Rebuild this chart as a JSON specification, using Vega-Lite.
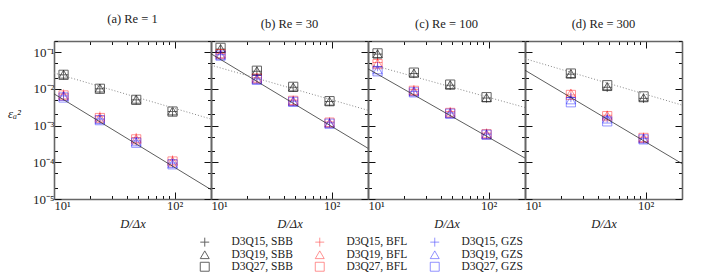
{
  "$schema": "https://vega.github.io/schema/vega-lite/v6.json",
  "padding": {"left": 7, "top": 12, "right": 5, "bottom": 5},
  "bounds": "flush",
  "datasets": {
    "pts": [
      {"panel":"a","series":"D3Q15, SBB","x":12,"e":0.024},{"panel":"a","series":"D3Q15, SBB","x":24,"e":0.0100},{"panel":"a","series":"D3Q15, SBB","x":48,"e":0.0050},{"panel":"a","series":"D3Q15, SBB","x":96,"e":0.0024},
      {"panel":"a","series":"D3Q19, SBB","x":12,"e":0.025},{"panel":"a","series":"D3Q19, SBB","x":24,"e":0.0105},{"panel":"a","series":"D3Q19, SBB","x":48,"e":0.0052},{"panel":"a","series":"D3Q19, SBB","x":96,"e":0.0025},
      {"panel":"a","series":"D3Q27, SBB","x":12,"e":0.024},{"panel":"a","series":"D3Q27, SBB","x":24,"e":0.0100},{"panel":"a","series":"D3Q27, SBB","x":48,"e":0.0050},{"panel":"a","series":"D3Q27, SBB","x":96,"e":0.0024},
      {"panel":"a","series":"D3Q15, BFL","x":12,"e":0.0072},{"panel":"a","series":"D3Q15, BFL","x":24,"e":0.0018},{"panel":"a","series":"D3Q15, BFL","x":48,"e":0.00047},{"panel":"a","series":"D3Q15, BFL","x":96,"e":0.000115},
      {"panel":"a","series":"D3Q19, BFL","x":12,"e":0.0068},{"panel":"a","series":"D3Q19, BFL","x":24,"e":0.0017},{"panel":"a","series":"D3Q19, BFL","x":48,"e":0.00044},{"panel":"a","series":"D3Q19, BFL","x":96,"e":0.00011},
      {"panel":"a","series":"D3Q27, BFL","x":12,"e":0.0066},{"panel":"a","series":"D3Q27, BFL","x":24,"e":0.0016},{"panel":"a","series":"D3Q27, BFL","x":48,"e":0.00042},{"panel":"a","series":"D3Q27, BFL","x":96,"e":0.000105},
      {"panel":"a","series":"D3Q15, GZS","x":12,"e":0.0064},{"panel":"a","series":"D3Q15, GZS","x":24,"e":0.0015},{"panel":"a","series":"D3Q15, GZS","x":48,"e":0.00038},{"panel":"a","series":"D3Q15, GZS","x":96,"e":0.000095},
      {"panel":"a","series":"D3Q19, GZS","x":12,"e":0.0062},{"panel":"a","series":"D3Q19, GZS","x":24,"e":0.00145},{"panel":"a","series":"D3Q19, GZS","x":48,"e":0.00036},{"panel":"a","series":"D3Q19, GZS","x":96,"e":0.000092},
      {"panel":"a","series":"D3Q27, GZS","x":12,"e":0.0058},{"panel":"a","series":"D3Q27, GZS","x":24,"e":0.0014},{"panel":"a","series":"D3Q27, GZS","x":48,"e":0.00034},{"panel":"a","series":"D3Q27, GZS","x":96,"e":0.000088},

      {"panel":"b","series":"D3Q15, SBB","x":12,"e":0.12},{"panel":"b","series":"D3Q15, SBB","x":24,"e":0.030},{"panel":"b","series":"D3Q15, SBB","x":48,"e":0.0110},{"panel":"b","series":"D3Q15, SBB","x":96,"e":0.0045},
      {"panel":"b","series":"D3Q19, SBB","x":12,"e":0.125},{"panel":"b","series":"D3Q19, SBB","x":24,"e":0.031},{"panel":"b","series":"D3Q19, SBB","x":48,"e":0.0112},{"panel":"b","series":"D3Q19, SBB","x":96,"e":0.0046},
      {"panel":"b","series":"D3Q27, SBB","x":12,"e":0.13},{"panel":"b","series":"D3Q27, SBB","x":24,"e":0.031},{"panel":"b","series":"D3Q27, SBB","x":48,"e":0.0113},{"panel":"b","series":"D3Q27, SBB","x":96,"e":0.0046},
      {"panel":"b","series":"D3Q15, BFL","x":12,"e":0.092},{"panel":"b","series":"D3Q15, BFL","x":24,"e":0.020},{"panel":"b","series":"D3Q15, BFL","x":48,"e":0.0049},{"panel":"b","series":"D3Q15, BFL","x":96,"e":0.00125},
      {"panel":"b","series":"D3Q19, BFL","x":12,"e":0.090},{"panel":"b","series":"D3Q19, BFL","x":24,"e":0.0195},{"panel":"b","series":"D3Q19, BFL","x":48,"e":0.0048},{"panel":"b","series":"D3Q19, BFL","x":96,"e":0.0012},
      {"panel":"b","series":"D3Q27, BFL","x":12,"e":0.088},{"panel":"b","series":"D3Q27, BFL","x":24,"e":0.019},{"panel":"b","series":"D3Q27, BFL","x":48,"e":0.0047},{"panel":"b","series":"D3Q27, BFL","x":96,"e":0.0012},
      {"panel":"b","series":"D3Q15, GZS","x":12,"e":0.085},{"panel":"b","series":"D3Q15, GZS","x":24,"e":0.0185},{"panel":"b","series":"D3Q15, GZS","x":48,"e":0.0046},{"panel":"b","series":"D3Q15, GZS","x":96,"e":0.00118},
      {"panel":"b","series":"D3Q19, GZS","x":12,"e":0.082},{"panel":"b","series":"D3Q19, GZS","x":24,"e":0.018},{"panel":"b","series":"D3Q19, GZS","x":48,"e":0.0045},{"panel":"b","series":"D3Q19, GZS","x":96,"e":0.00115},
      {"panel":"b","series":"D3Q27, GZS","x":12,"e":0.080},{"panel":"b","series":"D3Q27, GZS","x":24,"e":0.0175},{"panel":"b","series":"D3Q27, GZS","x":48,"e":0.0044},{"panel":"b","series":"D3Q27, GZS","x":96,"e":0.00112},

      {"panel":"c","series":"D3Q15, SBB","x":12,"e":0.088},{"panel":"c","series":"D3Q15, SBB","x":24,"e":0.026},{"panel":"c","series":"D3Q15, SBB","x":48,"e":0.0125},{"panel":"c","series":"D3Q15, SBB","x":96,"e":0.0056},
      {"panel":"c","series":"D3Q19, SBB","x":12,"e":0.090},{"panel":"c","series":"D3Q19, SBB","x":24,"e":0.027},{"panel":"c","series":"D3Q19, SBB","x":48,"e":0.013},{"panel":"c","series":"D3Q19, SBB","x":96,"e":0.0058},
      {"panel":"c","series":"D3Q27, SBB","x":12,"e":0.092},{"panel":"c","series":"D3Q27, SBB","x":24,"e":0.0275},{"panel":"c","series":"D3Q27, SBB","x":48,"e":0.013},{"panel":"c","series":"D3Q27, SBB","x":96,"e":0.0059},
      {"panel":"c","series":"D3Q15, BFL","x":12,"e":0.052},{"panel":"c","series":"D3Q15, BFL","x":24,"e":0.0095},{"panel":"c","series":"D3Q15, BFL","x":48,"e":0.0024},{"panel":"c","series":"D3Q15, BFL","x":96,"e":0.00062},
      {"panel":"c","series":"D3Q19, BFL","x":12,"e":0.050},{"panel":"c","series":"D3Q19, BFL","x":24,"e":0.0090},{"panel":"c","series":"D3Q19, BFL","x":48,"e":0.0023},{"panel":"c","series":"D3Q19, BFL","x":96,"e":0.0006},
      {"panel":"c","series":"D3Q27, BFL","x":12,"e":0.047},{"panel":"c","series":"D3Q27, BFL","x":24,"e":0.0088},{"panel":"c","series":"D3Q27, BFL","x":48,"e":0.0022},{"panel":"c","series":"D3Q27, BFL","x":96,"e":0.00058},
      {"panel":"c","series":"D3Q15, GZS","x":12,"e":0.040},{"panel":"c","series":"D3Q15, GZS","x":24,"e":0.0085},{"panel":"c","series":"D3Q15, GZS","x":48,"e":0.0022},{"panel":"c","series":"D3Q15, GZS","x":96,"e":0.00058},
      {"panel":"c","series":"D3Q19, GZS","x":12,"e":0.033},{"panel":"c","series":"D3Q19, GZS","x":24,"e":0.0082},{"panel":"c","series":"D3Q19, GZS","x":48,"e":0.0021},{"panel":"c","series":"D3Q19, GZS","x":96,"e":0.00057},
      {"panel":"c","series":"D3Q27, GZS","x":12,"e":0.030},{"panel":"c","series":"D3Q27, GZS","x":24,"e":0.0080},{"panel":"c","series":"D3Q27, GZS","x":48,"e":0.0021},{"panel":"c","series":"D3Q27, GZS","x":96,"e":0.00056},

      {"panel":"d","series":"D3Q15, SBB","x":24,"e":0.025},{"panel":"d","series":"D3Q15, SBB","x":48,"e":0.011},{"panel":"d","series":"D3Q15, SBB","x":96,"e":0.0055},
      {"panel":"d","series":"D3Q19, SBB","x":24,"e":0.026},{"panel":"d","series":"D3Q19, SBB","x":48,"e":0.0115},{"panel":"d","series":"D3Q19, SBB","x":96,"e":0.0057},
      {"panel":"d","series":"D3Q27, SBB","x":24,"e":0.026},{"panel":"d","series":"D3Q27, SBB","x":48,"e":0.0125},{"panel":"d","series":"D3Q27, SBB","x":96,"e":0.0062},
      {"panel":"d","series":"D3Q15, BFL","x":24,"e":0.0068},{"panel":"d","series":"D3Q15, BFL","x":48,"e":0.0019},{"panel":"d","series":"D3Q15, BFL","x":96,"e":0.00048},
      {"panel":"d","series":"D3Q19, BFL","x":24,"e":0.0077},{"panel":"d","series":"D3Q19, BFL","x":48,"e":0.0019},{"panel":"d","series":"D3Q19, BFL","x":96,"e":0.00047},
      {"panel":"d","series":"D3Q27, BFL","x":24,"e":0.0068},{"panel":"d","series":"D3Q27, BFL","x":48,"e":0.0018},{"panel":"d","series":"D3Q27, BFL","x":96,"e":0.00046},
      {"panel":"d","series":"D3Q15, GZS","x":24,"e":0.0058},{"panel":"d","series":"D3Q15, GZS","x":48,"e":0.0016},{"panel":"d","series":"D3Q15, GZS","x":96,"e":0.00044},
      {"panel":"d","series":"D3Q19, GZS","x":24,"e":0.0050},{"panel":"d","series":"D3Q19, GZS","x":48,"e":0.0015},{"panel":"d","series":"D3Q19, GZS","x":96,"e":0.00043},
      {"panel":"d","series":"D3Q27, GZS","x":24,"e":0.0043},{"panel":"d","series":"D3Q27, GZS","x":48,"e":0.0013},{"panel":"d","series":"D3Q27, GZS","x":96,"e":0.00042}
    ],
    "lines": [
      {"panel":"a","kind":"solid","x":10,"e":0.0073},{"panel":"a","kind":"solid","x":200,"e":0.000018},
      {"panel":"a","kind":"dotted","x":10,"e":0.027},{"panel":"a","kind":"dotted","x":200,"e":0.0015},
      {"panel":"b","kind":"solid","x":10,"e":0.09},{"panel":"b","kind":"solid","x":200,"e":0.00024},
      {"panel":"b","kind":"dotted","x":10,"e":0.044},{"panel":"b","kind":"dotted","x":200,"e":0.0026},
      {"panel":"c","kind":"solid","x":10,"e":0.035},{"panel":"c","kind":"solid","x":200,"e":0.00013},
      {"panel":"c","kind":"dotted","x":10,"e":0.048},{"panel":"c","kind":"dotted","x":200,"e":0.0031},
      {"panel":"d","kind":"solid","x":10,"e":0.032},{"panel":"d","kind":"solid","x":200,"e":0.000092},
      {"panel":"d","kind":"dotted","x":10,"e":0.066},{"panel":"d","kind":"dotted","x":200,"e":0.0036}
    ]
  },
  "hconcat": [
    {
      "width": 157, "height": 158,
      "title": {"text": "(a) Re = 1"},
      "layer": [
        {"data": {"name": "pts"}, "transform": [{"filter": "datum.panel == 'a'"}],
         "mark": {"type": "point", "filled": false, "size": 85, "strokeWidth": 1},
         "encoding": {
           "x": {"field": "x", "type": "quantitative", "scale": {"type": "log", "domain": [10, 200], "nice": false},
                 "axis": {"orient": "bottom", "values": [10,20,30,40,50,60,70,80,90,100,200], "labelExpr": "datum.value == 10 ? '10¹' : datum.value == 100 ? '10²' : ''", "tickSize": {"condition": {"test": "datum.value == 10 || datum.value == 100", "value": -7}, "value": -3.5}, "title": "D/Δx"}},
           "y": {"field": "e", "type": "quantitative", "scale": {"type": "log", "domain": [0.00001, 0.2], "nice": false},
                 "axis": {"orient": "left", "values": [0.00001,0.00002,0.00005,0.0001,0.0002,0.0005,0.001,0.002,0.005,0.01,0.02,0.05,0.1,0.2], "labelExpr": "datum.value == 0.1 ? '10⁻¹' : datum.value == 0.01 ? '10⁻²' : datum.value == 0.001 ? '10⁻³' : datum.value == 0.0001 ? '10⁻⁴' : datum.value == 0.00001 ? '10⁻⁵' : ''", "tickSize": {"condition": {"test": "datum.value == 0.1 || datum.value == 0.01 || datum.value == 0.001 || datum.value == 0.0001 || datum.value == 0.00001", "value": -7}, "value": -3.5}, "title": "εₐ²", "titleAngle": 0, "titleX": -40, "titleY": 72, "titleAlign": "center", "titleBaseline": "middle", "titleFontStyle": "italic", "titleFontSize": 13}},
           "color": {"field": "series", "type": "nominal", "legend": {"title": null},
                     "scale": {"domain": ["D3Q15, SBB","D3Q15, BFL","D3Q15, GZS","D3Q19, SBB","D3Q19, BFL","D3Q19, GZS","D3Q27, SBB","D3Q27, BFL","D3Q27, GZS"],
                               "range": ["#222222","rgba(255,0,0,0.6)","rgba(0,0,255,0.6)","#222222","rgba(255,0,0,0.6)","rgba(0,0,255,0.6)","#222222","rgba(255,0,0,0.6)","rgba(0,0,255,0.6)"]}},
           "shape": {"field": "series", "type": "nominal", "legend": {"title": null},
                     "scale": {"domain": ["D3Q15, SBB","D3Q15, BFL","D3Q15, GZS","D3Q19, SBB","D3Q19, BFL","D3Q19, GZS","D3Q27, SBB","D3Q27, BFL","D3Q27, GZS"],
                               "range": ["M-1,0L1,0M0,-1L0,1","M-1,0L1,0M0,-1L0,1","M-1,0L1,0M0,-1L0,1","triangle-up","triangle-up","triangle-up","square","square","square"]}}
         }},
        {"data": {"name": "lines"}, "transform": [{"filter": "datum.panel == 'a' && datum.kind == 'solid'"}],
         "mark": {"type": "line", "color": "#333333", "strokeWidth": 0.8},
         "encoding": {
           "x": {"field": "x", "type": "quantitative", "scale": {"type": "log", "domain": [10, 200], "nice": false},
                 "axis": {"orient": "top", "values": [10,20,30,40,50,60,70,80,90,100,200], "labels": false, "title": null, "tickSize": {"condition": {"test": "datum.value == 10 || datum.value == 100", "value": -7}, "value": -3.5}}},
           "y": {"field": "e", "type": "quantitative", "scale": {"type": "log", "domain": [0.00001, 0.2], "nice": false},
                 "axis": {"orient": "right", "values": [0.00001,0.00002,0.00005,0.0001,0.0002,0.0005,0.001,0.002,0.005,0.01,0.02,0.05,0.1,0.2], "labels": false, "title": null, "tickSize": {"condition": {"test": "datum.value == 0.1 || datum.value == 0.01 || datum.value == 0.001 || datum.value == 0.0001 || datum.value == 0.00001", "value": -7}, "value": -3.5}}}
         }},
        {"data": {"name": "lines"}, "transform": [{"filter": "datum.panel == 'a' && datum.kind == 'dotted'"}],
         "mark": {"type": "line", "color": "#888888", "strokeWidth": 1, "strokeDash": [1, 2]},
         "encoding": {
           "x": {"field": "x", "type": "quantitative", "scale": {"type": "log", "domain": [10, 200], "nice": false}, "axis": null},
           "y": {"field": "e", "type": "quantitative", "scale": {"type": "log", "domain": [0.00001, 0.2], "nice": false}, "axis": null}
         }}
      ],
      "resolve": {"axis": {"x": "independent", "y": "independent"}}
    },
    {
      "width": 157, "height": 158,
      "title": {"text": "(b) Re = 30"},
      "layer": [
        {"data": {"name": "pts"}, "transform": [{"filter": "datum.panel == 'b'"}],
         "mark": {"type": "point", "filled": false, "size": 85, "strokeWidth": 1},
         "encoding": {
           "x": {"field": "x", "type": "quantitative", "scale": {"type": "log", "domain": [10, 200], "nice": false},
                 "axis": {"orient": "bottom", "values": [10,20,30,40,50,60,70,80,90,100,200], "labelExpr": "datum.value == 10 ? '10¹' : datum.value == 100 ? '10²' : ''", "tickSize": {"condition": {"test": "datum.value == 10 || datum.value == 100", "value": -7}, "value": -3.5}, "title": "D/Δx"}},
           "y": {"field": "e", "type": "quantitative", "scale": {"type": "log", "domain": [0.00001, 0.2], "nice": false},
                 "axis": {"orient": "left", "values": [0.00001,0.00002,0.00005,0.0001,0.0002,0.0005,0.001,0.002,0.005,0.01,0.02,0.05,0.1,0.2], "labels": false, "title": null, "tickSize": {"condition": {"test": "datum.value == 0.1 || datum.value == 0.01 || datum.value == 0.001 || datum.value == 0.0001 || datum.value == 0.00001", "value": -7}, "value": -3.5}}},
           "color": {"field": "series", "type": "nominal", "legend": {"title": null}},
           "shape": {"field": "series", "type": "nominal", "legend": {"title": null}}
         }},
        {"data": {"name": "lines"}, "transform": [{"filter": "datum.panel == 'b' && datum.kind == 'solid'"}],
         "mark": {"type": "line", "color": "#333333", "strokeWidth": 0.8},
         "encoding": {
           "x": {"field": "x", "type": "quantitative", "scale": {"type": "log", "domain": [10, 200], "nice": false},
                 "axis": {"orient": "top", "values": [10,20,30,40,50,60,70,80,90,100,200], "labels": false, "title": null, "tickSize": {"condition": {"test": "datum.value == 10 || datum.value == 100", "value": -7}, "value": -3.5}}},
           "y": {"field": "e", "type": "quantitative", "scale": {"type": "log", "domain": [0.00001, 0.2], "nice": false},
                 "axis": {"orient": "right", "values": [0.00001,0.00002,0.00005,0.0001,0.0002,0.0005,0.001,0.002,0.005,0.01,0.02,0.05,0.1,0.2], "labels": false, "title": null, "tickSize": {"condition": {"test": "datum.value == 0.1 || datum.value == 0.01 || datum.value == 0.001 || datum.value == 0.0001 || datum.value == 0.00001", "value": -7}, "value": -3.5}}}
         }},
        {"data": {"name": "lines"}, "transform": [{"filter": "datum.panel == 'b' && datum.kind == 'dotted'"}],
         "mark": {"type": "line", "color": "#888888", "strokeWidth": 1, "strokeDash": [1, 2]},
         "encoding": {
           "x": {"field": "x", "type": "quantitative", "scale": {"type": "log", "domain": [10, 200], "nice": false}, "axis": null},
           "y": {"field": "e", "type": "quantitative", "scale": {"type": "log", "domain": [0.00001, 0.2], "nice": false}, "axis": null}
         }}
      ],
      "resolve": {"axis": {"x": "independent", "y": "independent"}}
    },
    {
      "width": 157, "height": 158,
      "title": {"text": "(c) Re = 100"},
      "layer": [
        {"data": {"name": "pts"}, "transform": [{"filter": "datum.panel == 'c'"}],
         "mark": {"type": "point", "filled": false, "size": 85, "strokeWidth": 1},
         "encoding": {
           "x": {"field": "x", "type": "quantitative", "scale": {"type": "log", "domain": [10, 200], "nice": false},
                 "axis": {"orient": "bottom", "values": [10,20,30,40,50,60,70,80,90,100,200], "labelExpr": "datum.value == 10 ? '10¹' : datum.value == 100 ? '10²' : ''", "tickSize": {"condition": {"test": "datum.value == 10 || datum.value == 100", "value": -7}, "value": -3.5}, "title": "D/Δx"}},
           "y": {"field": "e", "type": "quantitative", "scale": {"type": "log", "domain": [0.00001, 0.2], "nice": false},
                 "axis": {"orient": "left", "values": [0.00001,0.00002,0.00005,0.0001,0.0002,0.0005,0.001,0.002,0.005,0.01,0.02,0.05,0.1,0.2], "labels": false, "title": null, "tickSize": {"condition": {"test": "datum.value == 0.1 || datum.value == 0.01 || datum.value == 0.001 || datum.value == 0.0001 || datum.value == 0.00001", "value": -7}, "value": -3.5}}},
           "color": {"field": "series", "type": "nominal", "legend": {"title": null}},
           "shape": {"field": "series", "type": "nominal", "legend": {"title": null}}
         }},
        {"data": {"name": "lines"}, "transform": [{"filter": "datum.panel == 'c' && datum.kind == 'solid'"}],
         "mark": {"type": "line", "color": "#333333", "strokeWidth": 0.8},
         "encoding": {
           "x": {"field": "x", "type": "quantitative", "scale": {"type": "log", "domain": [10, 200], "nice": false},
                 "axis": {"orient": "top", "values": [10,20,30,40,50,60,70,80,90,100,200], "labels": false, "title": null, "tickSize": {"condition": {"test": "datum.value == 10 || datum.value == 100", "value": -7}, "value": -3.5}}},
           "y": {"field": "e", "type": "quantitative", "scale": {"type": "log", "domain": [0.00001, 0.2], "nice": false},
                 "axis": {"orient": "right", "values": [0.00001,0.00002,0.00005,0.0001,0.0002,0.0005,0.001,0.002,0.005,0.01,0.02,0.05,0.1,0.2], "labels": false, "title": null, "tickSize": {"condition": {"test": "datum.value == 0.1 || datum.value == 0.01 || datum.value == 0.001 || datum.value == 0.0001 || datum.value == 0.00001", "value": -7}, "value": -3.5}}}
         }},
        {"data": {"name": "lines"}, "transform": [{"filter": "datum.panel == 'c' && datum.kind == 'dotted'"}],
         "mark": {"type": "line", "color": "#888888", "strokeWidth": 1, "strokeDash": [1, 2]},
         "encoding": {
           "x": {"field": "x", "type": "quantitative", "scale": {"type": "log", "domain": [10, 200], "nice": false}, "axis": null},
           "y": {"field": "e", "type": "quantitative", "scale": {"type": "log", "domain": [0.00001, 0.2], "nice": false}, "axis": null}
         }}
      ],
      "resolve": {"axis": {"x": "independent", "y": "independent"}}
    },
    {
      "width": 157, "height": 158,
      "title": {"text": "(d) Re = 300"},
      "layer": [
        {"data": {"name": "pts"}, "transform": [{"filter": "datum.panel == 'd'"}],
         "mark": {"type": "point", "filled": false, "size": 85, "strokeWidth": 1},
         "encoding": {
           "x": {"field": "x", "type": "quantitative", "scale": {"type": "log", "domain": [10, 200], "nice": false},
                 "axis": {"orient": "bottom", "values": [10,20,30,40,50,60,70,80,90,100,200], "labelExpr": "datum.value == 10 ? '10¹' : datum.value == 100 ? '10²' : ''", "tickSize": {"condition": {"test": "datum.value == 10 || datum.value == 100", "value": -7}, "value": -3.5}, "title": "D/Δx"}},
           "y": {"field": "e", "type": "quantitative", "scale": {"type": "log", "domain": [0.00001, 0.2], "nice": false},
                 "axis": {"orient": "left", "values": [0.00001,0.00002,0.00005,0.0001,0.0002,0.0005,0.001,0.002,0.005,0.01,0.02,0.05,0.1,0.2], "labels": false, "title": null, "tickSize": {"condition": {"test": "datum.value == 0.1 || datum.value == 0.01 || datum.value == 0.001 || datum.value == 0.0001 || datum.value == 0.00001", "value": -7}, "value": -3.5}}},
           "color": {"field": "series", "type": "nominal", "legend": {"title": null}},
           "shape": {"field": "series", "type": "nominal", "legend": {"title": null}}
         }},
        {"data": {"name": "lines"}, "transform": [{"filter": "datum.panel == 'd' && datum.kind == 'solid'"}],
         "mark": {"type": "line", "color": "#333333", "strokeWidth": 0.8},
         "encoding": {
           "x": {"field": "x", "type": "quantitative", "scale": {"type": "log", "domain": [10, 200], "nice": false},
                 "axis": {"orient": "top", "values": [10,20,30,40,50,60,70,80,90,100,200], "labels": false, "title": null, "tickSize": {"condition": {"test": "datum.value == 10 || datum.value == 100", "value": -7}, "value": -3.5}}},
           "y": {"field": "e", "type": "quantitative", "scale": {"type": "log", "domain": [0.00001, 0.2], "nice": false},
                 "axis": {"orient": "right", "values": [0.00001,0.00002,0.00005,0.0001,0.0002,0.0005,0.001,0.002,0.005,0.01,0.02,0.05,0.1,0.2], "labels": false, "title": null, "tickSize": {"condition": {"test": "datum.value == 0.1 || datum.value == 0.01 || datum.value == 0.001 || datum.value == 0.0001 || datum.value == 0.00001", "value": -7}, "value": -3.5}}}
         }},
        {"data": {"name": "lines"}, "transform": [{"filter": "datum.panel == 'd' && datum.kind == 'dotted'"}],
         "mark": {"type": "line", "color": "#888888", "strokeWidth": 1, "strokeDash": [1, 2]},
         "encoding": {
           "x": {"field": "x", "type": "quantitative", "scale": {"type": "log", "domain": [10, 200], "nice": false}, "axis": null},
           "y": {"field": "e", "type": "quantitative", "scale": {"type": "log", "domain": [0.00001, 0.2], "nice": false}, "axis": null}
         }}
      ],
      "resolve": {"axis": {"x": "independent", "y": "independent"}}
    }
  ],
  "spacing": 0,
  "resolve": {"scale": {"color": "shared", "shape": "shared"}},
  "config": {
    "font": "Liberation Serif",
    "view": {"stroke": null},
    "title": {"fontSize": 12.5, "fontWeight": "normal", "color": "#222222", "offset": 10},
    "axis": {
      "domainColor": "#666666", "domainWidth": 1.6, "tickColor": "#111111", "tickWidth": 1,
      "labelFontSize": 12.5, "labelColor": "#222222", "labelPadding": 4, "labelOverlap": false,
      "titleFontSize": 12.5, "titleFontWeight": "normal", "titleColor": "#222222", "grid": false
    },
    "axisLeft": {"labelPadding": 7, "labelFontSize": 13},
    "axisBottom": {"titleFontStyle": "italic", "titlePadding": 2, "labelPadding": 7},
    "legend": {
      "orient": "none", "direction": "horizontal", "legendX": 145, "legendY": 195, "columns": 3, "columnPadding": 20, "rowPadding": -5,
      "labelFontSize": 11.5, "labelColor": "#222222", "labelOffset": 21, "symbolSize": 80, "symbolStrokeWidth": 1,
      "padding": 0
    }
  }
}
